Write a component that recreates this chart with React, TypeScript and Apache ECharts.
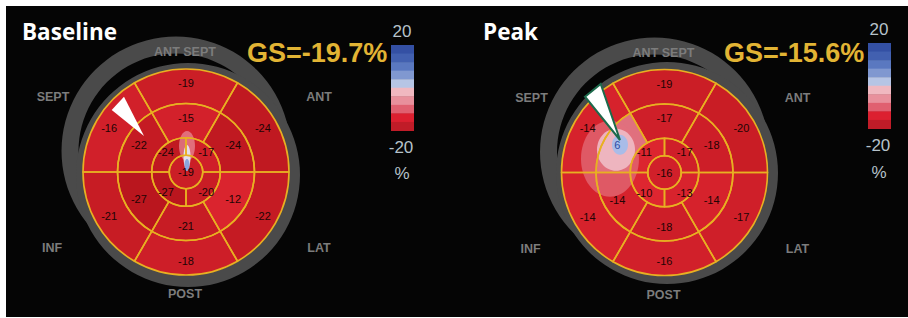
import React, { useEffect, useRef } from 'react';
import * as echarts from 'echarts';

// ---- Data (strain %, per AHA 17-segment bullseye) ----
// 6-segment rings ordered clockwise from top: top, upper-right, lower-right, bottom, lower-left, upper-left
const BASAL_BASELINE = [-19, -24, -22, -18, -21, -16];
const MID_BASELINE = [-15, -24, -12, -21, -27, -22];
// apical ring ordered clockwise from upper-left quadrant
const APICAL_BASELINE = [-24, -17, -20, -27];
const APEX_BASELINE = [-19];

const BASAL_PEAK = [-19, -20, -17, -16, -14, -14];
const MID_PEAK = [-17, -18, -14, -18, -14, 6];
const APICAL_PEAK = [-11, -17, -13, -10];
const APEX_PEAK = [-16];

const PANEL_TITLES = ['Baseline', 'Peak'];
const GS_LABELS = ['GS=-19.7%', 'GS=-15.6%'];
const WALL_LABELS = ['ANT SEPT', 'ANT', 'LAT', 'POST', 'INF', 'SEPT'];
const SCALE_TICKS = ['20', '-20', '%'];
const SCALE_COLORS = ['#3450a4', '#4260b0', '#5a78c0', '#8098d0', '#b6c5e5', '#f0b8c0', '#e8909c', '#e06070', '#dc2030', '#c01c28'];

// ---- Layout ----
const W = 908;
const H = 318;
const PANELS = [
  { cx: 186, cy: 172, ringA: [176, 151], ringB: [188, 175, 112], bar: [391, 45], title: [22, 31.5], gs: [247, 53], ticks: [402, 31, 147, 173] },
  { cx: 664.5, cy: 172.5, ringA: [654.5, 152], ringB: [667, 173, 111], bar: [868, 43], title: [483, 31.5], gs: [724, 52.5], ticks: [879, 29, 145, 172] },
];
const RADII = { apex: 16.7, apical: 34.3, mid: 68.5, basal: 103 };

function lerp(a: number, b: number, t: number) { return Math.round(a + (b - a) * t); }
function fillFor(v: number): string {
  if (v >= 0) return '#e0707e';
  const t = Math.max(0, Math.min(1, (v + 27) / 17));
  return `rgb(${lerp(186, 222, t)},${lerp(22, 38, t)},${lerp(30, 48, t)})`;
}

function ringPair(values: number[], center: number[], r0: number, r: number, startAngle: number, isApex: boolean) {
  const common = {
    type: 'pie',
    silent: true,
    center,
    radius: [r0, r],
    startAngle,
    clockwise: true,
    avoidLabelOverlap: false,
    labelLine: { show: false },
    emphasis: { disabled: true, scale: false },
  };
  const fill = {
    ...common,
    z: 2,
    label: { show: false },
    itemStyle: { borderWidth: 0 },
    data: values.map((v) => ({ value: 1, strain: v, itemStyle: { color: fillFor(v) } })),
  };
  const overlay = {
    ...common,
    z: 4,
    label: {
      show: true,
      position: isApex ? 'center' : 'inside',
      fontFamily: 'Liberation Sans',
      fontSize: 11,
      formatter: (p: any) => String(p.data.strain),
    },
    itemStyle: { color: 'rgba(0,0,0,0)', borderColor: '#e8b022', borderWidth: 1.6 },
    data: values.map((v) => ({
      value: 1,
      strain: v,
      label: { color: v >= 0 ? '#2c4ca4' : '#220404' },
    })),
  };
  return [fill, overlay];
}

function txt(x: number, y: number, text: string, fill: string, fontSize: number, fontWeight: string, fontFamily: string, align = 'center', z = 6) {
  return {
    type: 'text', x, y, z, silent: true,
    style: { text, fill, fontSize, fontWeight, fontFamily, align, verticalAlign: 'middle', textAlign: align, textVerticalAlign: 'middle' },
  };
}

export default function App() {
  const ref = useRef<HTMLDivElement>(null);
  useEffect(() => {
    if (!ref.current) return;
    const chart = echarts.init(ref.current, null, { renderer: 'svg' });
    const datasets = [
      [BASAL_BASELINE, MID_BASELINE, APICAL_BASELINE, APEX_BASELINE],
      [BASAL_PEAK, MID_PEAK, APICAL_PEAK, APEX_PEAK],
    ];
    const series: any[] = [];
    const graphic: any[] = [
      { type: 'rect', z: 0, silent: true, shape: { x: 6, y: 6, width: W - 6, height: H - 7 }, style: { fill: '#050505' } },
    ];
    PANELS.forEach((p, pi) => {
      const [basal, mid, apical, apex] = datasets[pi];
      const c = [p.cx, p.cy];
      series.push(...ringPair(basal, c, RADII.mid, RADII.basal, 120, false));
      series.push(...ringPair(mid, c, RADII.apical, RADII.mid, 120, false));
      series.push(...ringPair(apical, c, RADII.apex, RADII.apical, 180, false));
      series.push(...ringPair(apex, c, 0, RADII.apex, 90, true));

      // gray rings behind the map
      graphic.push({ type: 'ring', z: 1, silent: true, shape: { cx: p.ringA[0], cy: p.ringA[1], r: 114.5, r0: 97.5 }, style: { fill: '#4a4a4a' } });
      graphic.push({ type: 'ring', z: 1, silent: true, shape: { cx: p.ringB[0], cy: p.ringB[1], r: p.ringB[2], r0: p.ringB[2] - 12 }, style: { fill: '#4a4a4a' } });

      // wall labels
      const wl = [
        [p.cx - 1, p.cy - 120], [p.cx + 133, p.cy - 75], [p.cx + 133, p.cy + 76],
        [p.cx - 1, p.cy + 122], [p.cx - 134, p.cy + 76], [p.cx - 133, p.cy - 75],
      ];
      WALL_LABELS.forEach((t, i) => graphic.push(txt(wl[i][0], wl[i][1], t, '#7c7c7c', 12.5, 'bold', 'Liberation Sans', 'center', 1)));

      // smoothing blobs of the map (between fill and border layers)
      if (pi === 1) {
        let idx = 0;
        mid.forEach((v, i) => { if (v > mid[idx]) idx = i; });
        const a = ((90 - 60 * idx) * Math.PI) / 180;
        const rm = (RADII.apical + RADII.mid) / 2;
        const bx = p.cx + rm * Math.cos(a);
        const by = p.cy - rm * Math.sin(a);
        graphic.push({ type: 'ellipse', z: 3, silent: true, shape: { cx: bx - 10, cy: by + 12, rx: 29, ry: 38 }, style: { fill: '#e3707e', opacity: 0.7 } });
        graphic.push({ type: 'ellipse', z: 3, silent: true, shape: { cx: bx - 4, cy: by + 3, rx: 19, ry: 21 }, style: { fill: '#f0bcc6', opacity: 0.9 } });
        graphic.push({ type: 'ellipse', z: 3, silent: true, shape: { cx: bx, cy: by - 2, rx: 8, ry: 10 }, style: { fill: '#a9bce8' } });
      } else {
        graphic.push({ type: 'ellipse', z: 3, silent: true, shape: { cx: p.cx + 1, cy: p.cy - 26, rx: 8, ry: 15 }, style: { fill: '#e8909c', opacity: 0.7 } });
        graphic.push({ type: 'ellipse', z: 3, silent: true, shape: { cx: p.cx + 1, cy: p.cy - 15, rx: 3.5, ry: 12 }, style: { fill: '#e4eaf6', opacity: 0.9 } });
        graphic.push({ type: 'ellipse', z: 3, silent: true, shape: { cx: p.cx + 1, cy: p.cy - 7, rx: 2.5, ry: 6 }, style: { fill: '#8aa6dc' } });
      }

      // titles
      graphic.push(txt(p.title[0], p.title[1], PANEL_TITLES[pi], '#ffffff', 22.5, 'bold', 'Open Sans', 'left'));
      graphic.push(txt(p.gs[0], p.gs[1], GS_LABELS[pi], '#e2b434', 27, 'bold', 'Liberation Sans', 'left'));

      // colour scale
      const bh = 85.5 / SCALE_COLORS.length;
      SCALE_COLORS.forEach((col, i) => graphic.push({
        type: 'rect', z: 5, silent: true,
        shape: { x: p.bar[0], y: p.bar[1] + i * bh, width: 23, height: bh + 0.5 },
        style: { fill: col },
      }));
      graphic.push(txt(p.ticks[0], p.ticks[1], SCALE_TICKS[0], '#b6c2ca', 17, 'normal', 'Liberation Sans'));
      graphic.push(txt(p.ticks[0] - 1, p.ticks[2], SCALE_TICKS[1], '#b6c2ca', 17, 'normal', 'Liberation Sans'));
      graphic.push(txt(p.ticks[0], p.ticks[3], SCALE_TICKS[2], '#b6c2ca', 17, 'normal', 'Liberation Sans'));
    });

    // pointer arrows
    graphic.push({ type: 'polygon', z: 7, silent: true, shape: { points: [[111.7, 110], [124, 96.7], [144, 136]] }, style: { fill: '#ffffff' } });
    graphic.push({ type: 'polygon', z: 7, silent: true, shape: { points: [[585, 96.7], [600.7, 84], [620, 140]] }, style: { fill: '#ffffff', stroke: '#1d6a4c', lineWidth: 2, lineJoin: 'miter' } });

    chart.setOption({
      animation: false,
      backgroundColor: '#ffffff',
      series,
      graphic: { elements: graphic },
    });
    return () => chart.dispose();
  }, []);
  return <div ref={ref} style={{ position: 'fixed', left: 0, top: 0, width: W, height: H }} />;
}
